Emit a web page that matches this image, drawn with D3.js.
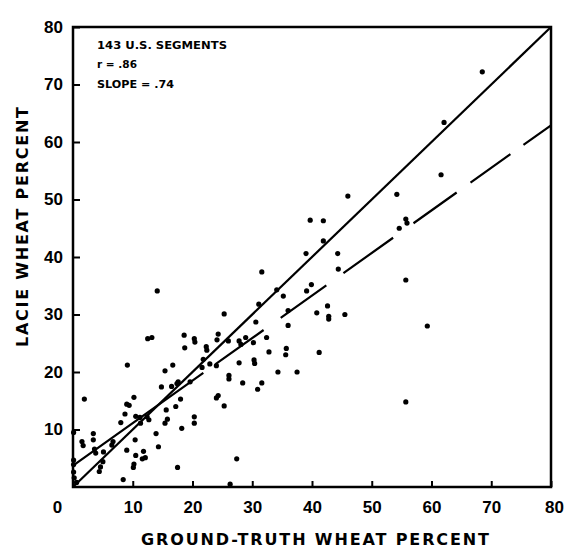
<!DOCTYPE html>
<html>
<head>
<meta charset="utf-8">
<script src="https://cdn.jsdelivr.net/npm/d3@7"></script>
<style>
  body { margin: 0; background: #fff; }
  svg { display: block; }
</style>
</head>
<body>
<div id="chart"></div>
<script>
// ground-truth wheat % (x) vs LACIE wheat % (y)
var groundTruth = [0.1, 0.1, 0.1, 0.1, 0.2, 0.6, 1.9, 1.5, 1.7, 3.4, 3.4, 3.6, 3.8, 4.6, 4.4, 5.0, 5.1, 6.7, 6.5,
    8.4, 8.0, 8.7, 9.0, 9.4, 10.2, 9.1, 10.4, 9.0, 10.5, 10.2, 10.1, 11.6, 12.1, 11.8, 10.5, 11.3, 11.2, 12.4, 12.7,
    12.5, 13.2, 14.1, 13.9, 14.3, 15.4, 15.8, 15.6, 14.8, 15.4,
    16.5, 16.7, 17.4, 17.2, 18.0, 18.2, 17.5, 17.6, 19.6, 18.6, 18.7, 20.3, 20.4, 20.3, 20.3, 21.6, 21.8, 22.3, 22.4,
    22.9, 24.0, 24.3, 24.1, 24.0, 24.3, 25.3, 25.3,
    26.0, 26.1, 26.1, 26.3, 27.4, 27.8, 28.1, 27.8, 28.4, 28.9, 30.2, 30.3, 30.4, 30.9, 31.6, 30.6, 31.1, 31.6, 32.4,
    32.8, 34.1, 34.3, 35.2, 35.7, 35.6, 36.0, 36.0,
    37.5, 39.0, 39.1, 39.9, 39.7, 41.9, 41.9, 40.8, 41.2, 42.6, 42.8, 42.8, 44.3, 44.4, 45.5, 46.0, 54.2, 55.7, 55.9,
    54.6, 55.7, 55.7, 59.3, 61.6, 62.1, 68.5];
var lacie = [9.5, 4.7, 3.9, 2.6, 1.6, 0.8, 15.3, 7.9, 7.2, 9.3, 8.2, 6.6, 5.9, 3.5, 2.7, 4.4, 6.1, 7.9, 7.3,
    1.3, 11.2, 12.7, 14.4, 14.2, 15.6, 21.2, 8.2, 6.4, 5.5, 4.0, 3.4, 4.9, 5.1, 6.2, 12.3, 11.1, 12.1, 12.2, 11.7,
    25.8, 26.0, 34.1, 9.3, 7.0, 11.1, 11.8, 13.4, 17.4, 20.2,
    17.5, 21.2, 18.0, 14.0, 15.3, 10.2, 3.4, 18.3, 18.3, 26.4, 24.2, 25.8, 25.2, 12.2, 11.1, 20.8, 22.2, 24.4, 23.8,
    21.4, 21.1, 26.6, 25.6, 15.5, 15.9, 14.1, 30.1,
    25.4, 19.4, 18.8, 0.5, 4.9, 25.4, 24.8, 21.6, 18.1, 26.0, 25.1, 22.1, 21.5, 17.0, 18.1, 28.7, 31.8, 37.4, 26.0,
    23.5, 34.3, 20.0, 33.2, 24.1, 23.0, 30.7, 28.1,
    20.0, 40.6, 34.1, 35.2, 46.4, 46.3, 42.8, 30.3, 23.4, 31.5, 29.7, 29.2, 40.6, 37.9, 30.0, 50.6, 50.9, 46.6, 45.9,
    45.0, 36.0, 14.8, 28.0, 54.3, 63.4, 72.2];

var xTicks = [0, 10, 20, 30, 40, 50, 60, 70, 80];
var yTicks = [10, 20, 30, 40, 50, 60, 70, 80];
var notes = ["143 U.S. SEGMENTS", "r = .86", "SLOPE = .74"];
var fitIntercept = 3.7, fitSlope = 0.74;

var width = 570, height = 551;
var plotLeft = 73, plotRight = 551, plotTop = 27, plotBottom = 487;

var svg = d3.select("#chart").append("svg")
    .attr("width", width)
    .attr("height", height)
    .style("font-family", "'DejaVu Sans', sans-serif");

svg.append("rect").attr("width", width).attr("height", height).attr("fill", "#fff");

var x = d3.scaleLinear().domain([0, 80]).range([plotLeft, plotRight]);
var y = d3.scaleLinear().domain([0, 80]).range([plotBottom, plotTop]);

// x axis, ticks pointing inward
var gx = svg.append("g")
    .attr("transform", "translate(0," + plotBottom + ")")
    .call(d3.axisBottom(x).tickValues(xTicks).tickSize(-6).tickPadding(14));
gx.select(".domain").remove();
gx.selectAll("line").attr("stroke-width", 2);
gx.selectAll("text")
    .attr("font-size", 17).attr("font-weight", "bold").attr("fill", "#000")
    .attr("dx", function(d) { return d === 0 ? -16 : (d === 80 ? 3 : 0); });

var gy = svg.append("g")
    .attr("transform", "translate(" + plotLeft + ",0)")
    .call(d3.axisLeft(y).tickValues(yTicks).tickSize(-7).tickPadding(10));
gy.select(".domain").remove();
gy.selectAll("line").attr("stroke-width", 2);
gy.selectAll("text")
    .attr("font-size", 17).attr("font-weight", "bold").attr("fill", "#000");

// frame
svg.append("rect")
    .attr("x", plotLeft).attr("y", plotTop)
    .attr("width", plotRight - plotLeft).attr("height", plotBottom - plotTop)
    .attr("fill", "none").attr("stroke", "#000").attr("stroke-width", 2.5);

// 1:1 line
svg.append("line")
    .attr("x1", x(0)).attr("y1", y(0))
    .attr("x2", x(80)).attr("y2", y(80))
    .attr("stroke", "#000").attr("stroke-width", 2.2);

// regression line, long dashes
svg.append("line")
    .attr("x1", x(0)).attr("y1", y(fitIntercept))
    .attr("x2", x(80)).attr("y2", y(fitIntercept + fitSlope * 80))
    .attr("stroke", "#000").attr("stroke-width", 2.2)
    .attr("stroke-dasharray", "160,15,59,21,56,21,61,25,53,17,49,16,60");

svg.append("g")
    .selectAll("circle")
    .data(groundTruth.map(function(d, i) { return [d, lacie[i]]; }))
    .enter()
    .append("circle")
    .attr("cx", function(d) { return x(d[0]); })
    .attr("cy", function(d) { return y(d[1]); })
    .attr("r", 2.6)
    .attr("fill", "#000");

// notes box text
var noteY = [49, 68, 88], noteW = [130, 40, 77];
svg.append("g").selectAll("text")
    .data(notes)
    .enter()
    .append("text")
    .attr("x", 97)
    .attr("y", function(d, i) { return noteY[i]; })
    .attr("font-size", 10.5).attr("font-weight", "bold")
    .attr("textLength", function(d, i) { return noteW[i]; })
    .attr("lengthAdjust", "spacingAndGlyphs")
    .text(function(d) { return d; });

// axis titles
svg.append("text")
    .attr("x", 315).attr("y", 545)
    .attr("text-anchor", "middle")
    .attr("font-size", 16).attr("font-weight", "bold")
    .attr("textLength", 348).attr("lengthAdjust", "spacing")
    .text("GROUND-TRUTH WHEAT PERCENT");

svg.append("text")
    .attr("transform", "translate(28,227) rotate(-90)")
    .attr("text-anchor", "middle")
    .attr("font-size", 16).attr("font-weight", "bold")
    .attr("textLength", 240).attr("lengthAdjust", "spacing")
    .text("LACIE WHEAT PERCENT");
</script>
</body>
</html>
